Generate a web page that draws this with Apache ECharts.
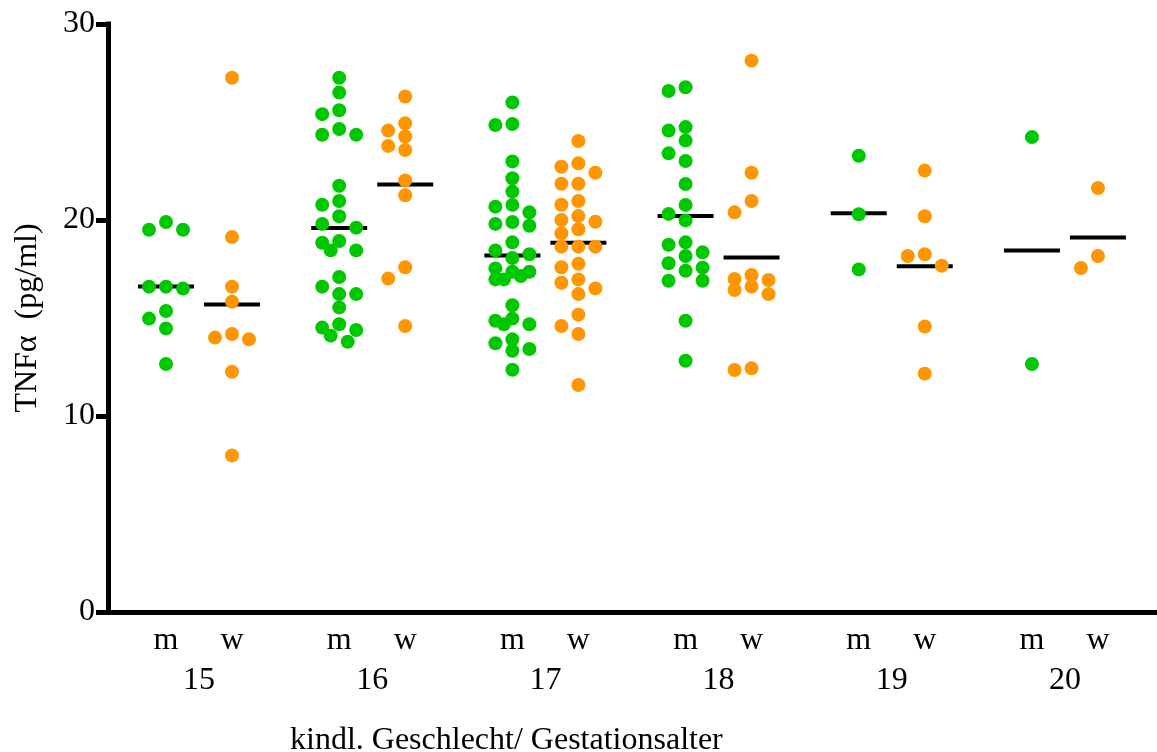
<!DOCTYPE html>
<html>
<head>
<meta charset="utf-8">
<title>TNFα nach Geschlecht und Gestationsalter</title>
<script src="https://cdn.jsdelivr.net/npm/echarts@6/dist/echarts.min.js"></script>
<style>
  html, body { margin: 0; padding: 0; background: #fff; }
  #chart { width: 1157px; height: 752px; }
</style>
</head>
<body>
<div id="chart"></div>
<script>
// Gestationsalter (Wochen) und Geschlecht
const ages = ['15', '16', '17', '18', '19', '20'];
const sexes = ['m', 'w'];
const yTicks = [0, 10, 20, 30];

// TNFα (pg/ml)
const m15 = [19.9, 19.5, 19.5, 16.6, 16.6, 16.5, 15.36, 14.97, 14.47, 12.65];
const w15 = [27.26, 19.13, 16.6, 15.83, 14.18, 14.0, 13.91, 12.26, 7.99];
const m16 = [27.26, 26.5, 25.6, 25.4, 24.64, 24.35, 24.35, 21.75, 20.97, 20.78, 20.19, 19.8, 19.61,
  18.93, 18.84, 18.45, 18.45, 17.09, 16.6, 16.22, 16.22, 15.54, 14.68, 14.51, 14.39, 14.1, 13.79];
const w16 = [26.3, 24.93, 24.56, 24.26, 23.78, 23.57, 22.02, 21.26, 17.59, 17.01, 14.59];
const m17 = [26.0, 24.9, 24.85, 22.99, 22.13, 21.45, 20.77, 20.68, 20.39, 19.9, 19.8, 19.71, 18.86,
  18.45, 18.25, 18.06, 17.53, 17.36, 17.36, 17.14, 16.97, 16.97, 15.65, 14.97, 14.86, 14.68, 14.68,
  13.91, 13.71, 13.42, 13.33, 12.36];
const w17 = [24.03, 22.89, 22.72, 22.41, 21.85, 21.85, 20.97, 20.78, 20.2, 20.0, 19.91, 19.53, 19.32,
  18.64, 18.64, 18.64, 17.77, 17.59, 16.97, 16.8, 16.51, 16.22, 15.17, 14.59, 14.18, 11.58];
const m18 = [26.77, 26.58, 24.74, 24.56, 24.05, 23.4, 23.01, 21.84, 20.77, 20.31, 19.98, 18.86, 18.74,
  18.35, 18.16, 17.79, 17.57, 17.41, 16.9, 16.9, 14.86, 12.82];
const w18 = [28.13, 22.41, 20.97, 20.39, 17.19, 16.99, 16.94, 16.6, 16.43, 16.22, 12.43, 12.35];
const m19 = [23.28, 20.29, 17.48];
const w19 = [22.52, 20.19, 18.25, 18.16, 17.67, 14.57, 12.16];
const m20 = [24.23, 12.65];
const w20 = [21.63, 18.16, 17.55];

const mGroups = [m15, m16, m17, m18, m19, m20];
const wGroups = [w15, w16, w17, w18, w19, w20];

const font = "'Liberation Serif', 'Times New Roman', serif";
const green = '#00c800';
const orange = '#ff9600';
const wShift = 0.381;      // Abstand m -> w innerhalb eines Alters (Achseneinheiten)
const dotSize = 14;
const dotStep = 17;        // seitlicher Versatz der Punkte in px

const mPos = ages.map((a, i) => i);
const wPos = ages.map((a, i) => i + wShift);
const agePos = ages.map((a, i) => i + wShift / 2);

let chart = echarts.init(document.getElementById('chart'));

let option = {
  animation: false,
  backgroundColor: '#fff',
  title: {
    text: 'kindl. Geschlecht/ Gestationsalter',
    left: 285,
    top: 720,
    textStyle: { fontFamily: font, fontSize: 32, fontWeight: 'normal', color: '#000' }
  },
  grid: { left: 108, right: 0, top: 24, bottom: 140 },
  xAxis: [
    {
      type: 'value',
      min: -0.335,
      max: 5.722,
      axisLine: { show: true, onZero: false, lineStyle: { color: '#000', width: 5, cap: 'square' } },
      axisTick: { show: false },
      splitLine: { show: false },
      axisLabel: {
        customValues: mPos.concat(wPos),
        formatter: v => ((v % 1) > 0.2 ? sexes[1] : sexes[0]),
        fontFamily: font, fontSize: 32, color: '#000', margin: 13
      }
    },
    {
      type: 'value',
      min: -0.335,
      max: 5.722,
      position: 'bottom',
      axisLine: { show: false, onZero: false },
      axisTick: { show: false },
      splitLine: { show: false },
      axisLabel: {
        customValues: agePos,
        formatter: v => ages[Math.round(v - wShift / 2)],
        fontFamily: font, fontSize: 32, color: '#000', margin: 53
      }
    }
  ],
  yAxis: {
    type: 'value',
    min: yTicks[0],
    max: yTicks[yTicks.length - 1],
    interval: 10,
    name: 'TNFα  (pg/ml)',
    nameLocation: 'middle',
    nameGap: 64,
    nameTextStyle: { fontFamily: font, fontSize: 32, color: '#000' },
    axisLine: { show: true, onZero: false, lineStyle: { color: '#000', width: 5, cap: 'square' } },
    axisTick: { show: true, length: 12, lineStyle: { color: '#000', width: 5 } },
    splitLine: { show: false },
    axisLabel: { fontFamily: font, fontSize: 32, color: '#000', margin: 13 }
  },
  series: []
};

chart.setOption(option);

// Punkte einer Gruppe seitlich auseinanderschieben (einfacher Beeswarm)
function swarm(values, center) {
  const cx = chart.convertToPixel({ xAxisIndex: 0 }, center);
  const order = [0, -1, 1, 0.5, -0.5];
  const placed = [];
  const sorted = values.slice().sort((a, b) => b - a);
  sorted.forEach(v => {
    const py = chart.convertToPixel({ yAxisIndex: 0 }, v);
    let best = cx, bestGap = -1;
    for (let k = 0; k < order.length; k++) {
      const tx = cx + order[k] * dotStep;
      const gap = placed.reduce((g, p) => Math.min(g, Math.hypot(p[0] - tx, p[1] - py)), Infinity);
      if (gap >= dotSize - 1) { best = tx; bestGap = gap; break; }
      if (gap > bestGap) { best = tx; bestGap = gap; }
    }
    placed.push([best, py]);
  });
  return placed.map((p, i) => [chart.convertFromPixel({ xAxisIndex: 0 }, p[0]), sorted[i]]);
}

function mean(arr) {
  return arr.reduce((s, v) => s + v, 0) / arr.length;
}

let mData = [], wData = [], meanData = [];
ages.forEach((a, i) => {
  mData = mData.concat(swarm(mGroups[i], mPos[i]));
  wData = wData.concat(swarm(wGroups[i], wPos[i]));
  meanData.push([mPos[i], mean(mGroups[i])]);
  meanData.push([wPos[i], mean(wGroups[i])]);
});

chart.setOption({
  series: [
    {
      name: 'Mittelwert',
      type: 'scatter',
      z: 2,
      symbol: 'rect',
      symbolSize: [56, 4],
      itemStyle: { color: '#000', opacity: 1 },
      data: meanData
    },
    {
      name: 'm',
      type: 'scatter',
      z: 3,
      symbolSize: dotSize,
      itemStyle: { color: green, opacity: 1 },
      data: mData
    },
    {
      name: 'w',
      type: 'scatter',
      z: 3,
      symbolSize: dotSize,
      itemStyle: { color: orange, opacity: 1 },
      data: wData
    }
  ]
});
</script>
</body>
</html>
